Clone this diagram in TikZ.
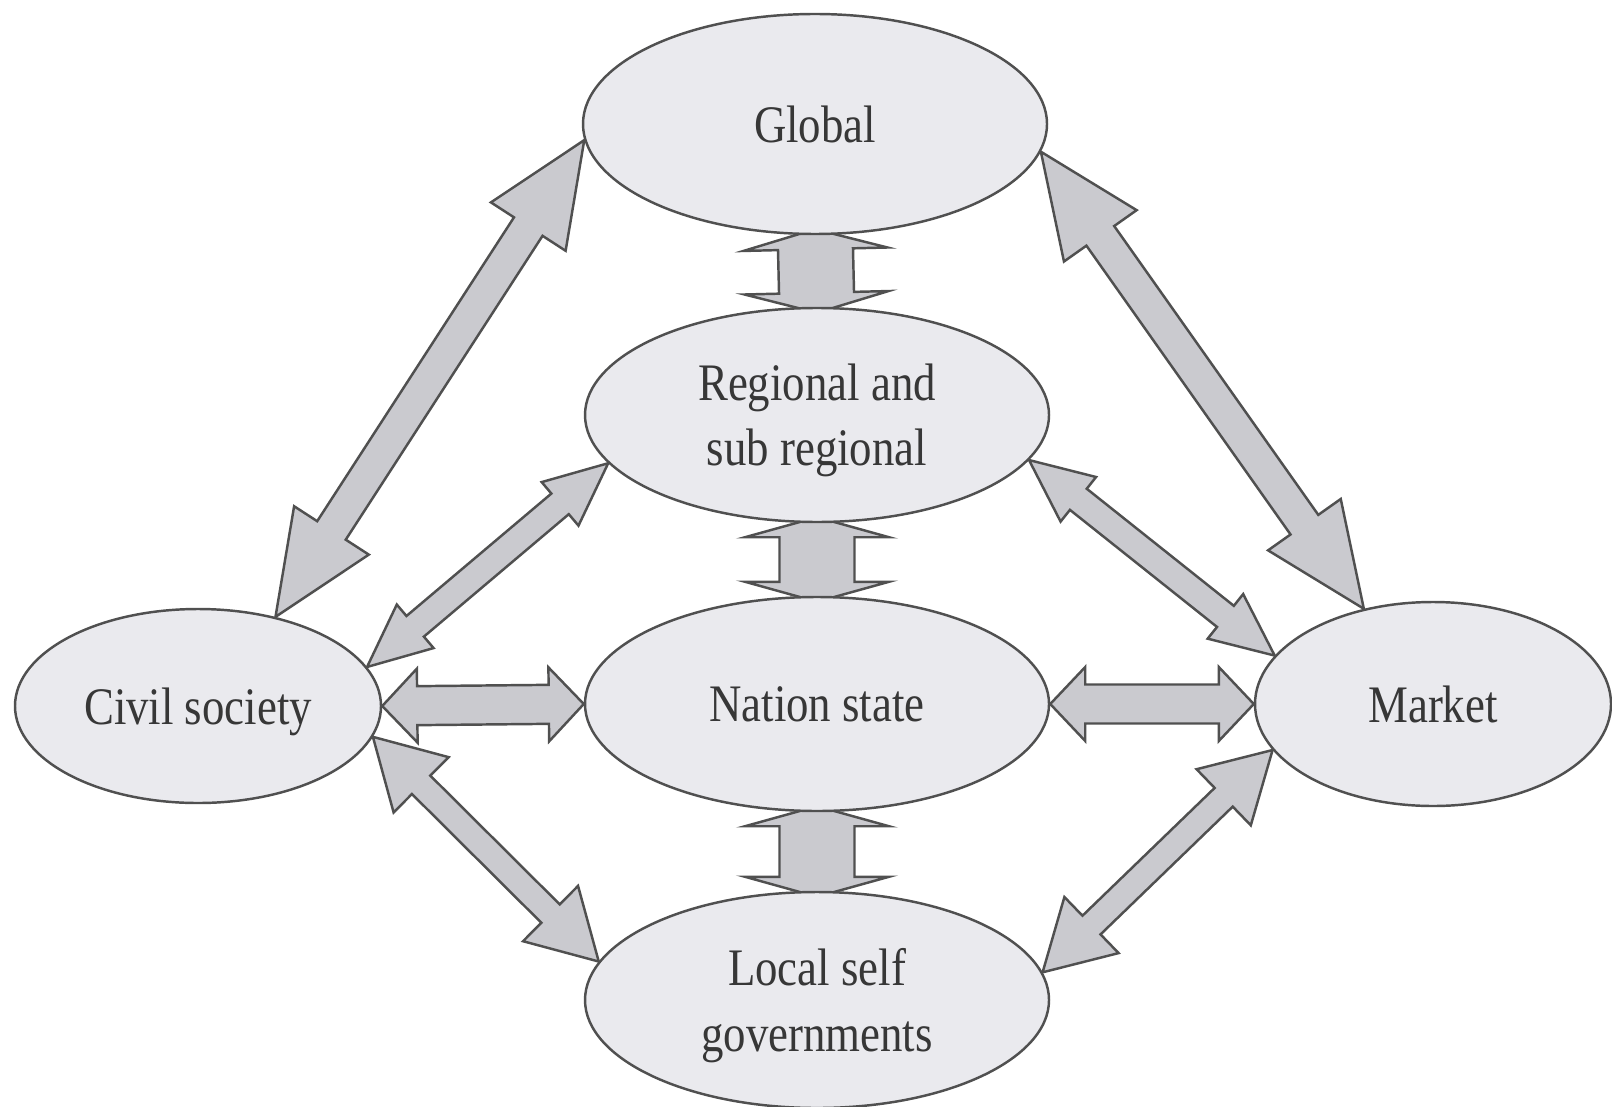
\documentclass[tikz,border=0pt]{standalone}
\usepackage{fontspec}
\setmainfont{Liberation Serif}[FakeStretch=0.85]
\usetikzlibrary{shapes.geometric,calc}
\pgfdeclarelayer{background}
\pgfsetlayers{background,main}
\definecolor{linec}{RGB}{80,80,80}
\definecolor{ellf}{RGB}{234,234,238}
\definecolor{arrf}{RGB}{202,202,207}
\definecolor{textc}{RGB}{55,55,55}
\tikzset{
  ell/.style={ellipse, draw=linec, fill=ellf, line width=0.7pt, inner sep=0pt,
    align=center, text=textc, text depth=0pt,
    font=\fontsize{15pt}{18.6pt}\selectfont},
  blockarrow/.style={draw=linec, fill=arrf, line width=0.7pt, line join=miter}
}
% #1 start, #2 end, #3 shaft half-width, #4 head half-width, #5 head length
\newcommand{\blockarr}[5]{%
  \path ($(#1)!#5!(#2)$) coordinate (bkA) ($(#2)!#5!(#1)$) coordinate (bkB);
  \filldraw[blockarrow] (#1) -- ($(bkA)!#4!90:(#2)$) -- ($(bkA)!#3!90:(#2)$)
    -- ($(bkB)!#3!-90:(#1)$) -- ($(bkB)!#4!-90:(#1)$) -- (#2)
    -- ($(bkB)!#4!90:(#1)$) -- ($(bkB)!#3!90:(#1)$)
    -- ($(bkA)!#3!-90:(#2)$) -- ($(bkA)!#4!-90:(#2)$) -- cycle;
}
\begin{document}
\begin{tikzpicture}
\useasboundingbox (0,0) rectangle (16.12,-11.06);
% ellipses
\node[ell, minimum width=4.64cm, minimum height=2.20cm] (glob) at (8.15,-1.24) {Global};
\node[ell, minimum width=4.64cm, minimum height=2.14cm] (reg) at (8.17,-4.15) {Regional and\\sub regional};
\node[ell, minimum width=4.64cm, minimum height=2.14cm] (nat) at (8.17,-7.04) {Nation state};
\node[ell, minimum width=4.64cm, minimum height=2.16cm] (loc) at (8.17,-10.0) {Local self\\governments};
\node[ell, minimum width=3.66cm, minimum height=1.94cm] (civ) at (1.98,-7.06) {Civil society};
\node[ell, minimum width=3.56cm, minimum height=2.04cm] (mkt) at (14.33,-7.04) {Market};
% inner end points of the vertical arrows (hidden under the ellipses)
\coordinate (gS) at ($(glob.south)+(0,0.06)$);
\coordinate (rN) at ($(reg.north)+(0,-0.06)$);
\coordinate (rS) at ($(reg.south)+(0,0.06)$);
\coordinate (nN) at ($(nat.north)+(0,-0.06)$);
\coordinate (nS) at ($(nat.south)+(0,0.06)$);
\coordinate (lN) at ($(loc.north)+(0,-0.06)$);
% arrows
\begin{pgfonlayer}{background}
  % large diagonal arrows
  \blockarr{glob.184}{civ.49}{0.17cm}{0.445cm}{1.03cm}
  \blockarr{glob.353}{mkt.126.7}{0.17cm}{0.445cm}{1.03cm}
  % vertical arrows
  \blockarr{gS}{rN}{0.375cm}{0.72cm}{0.2cm}
  \blockarr{rS}{nN}{0.375cm}{0.72cm}{0.2cm}
  \blockarr{nS}{lN}{0.375cm}{0.72cm}{0.2cm}
  % horizontal arrows
  \blockarr{civ.east}{nat.west}{0.195cm}{0.37cm}{0.35cm}
  \blockarr{nat.east}{mkt.west}{0.195cm}{0.37cm}{0.35cm}
  % upper small diagonals
  \blockarr{civ.13.5}{reg.193.5}{0.135cm}{0.285cm}{0.63cm}
  \blockarr{reg.348}{mkt.163.4}{0.135cm}{0.285cm}{0.63cm}
  % lower diagonals
  \blockarr{civ.350.4}{loc.170.4}{0.13cm}{0.39cm}{0.68cm}
  \blockarr{loc.7}{mkt.196.2}{0.13cm}{0.39cm}{0.68cm}
\end{pgfonlayer}
\end{tikzpicture}
\end{document}
